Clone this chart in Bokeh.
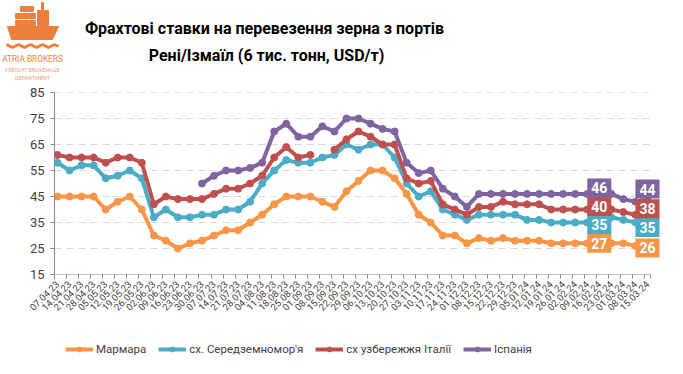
import numpy as np
from bokeh.plotting import figure
from bokeh.layouts import column
from bokeh.models import Range1d, FixedTicker, Legend, LegendItem, ColumnDataSource
from bokeh.core.properties import value
from bokeh.embed import file_html
from bokeh.resources import INLINE

dates = ["07.04.23", "14.04.23", "21.04.23", "28.04.23", "05.05.23", "12.05.23", "19.05.23", "26.05.23",
         "02.06.23", "09.06.23", "16.06.23", "23.06.23", "30.06.23", "07.07.23", "14.07.23", "21.07.23",
         "28.07.23", "04.08.23", "11.08.23", "18.08.23", "25.08.23", "01.09.23", "08.09.23", "15.09.23",
         "22.09.23", "29.09.23", "06.10.23", "13.10.23", "20.10.23", "27.10.23", "03.11.23", "10.11.23",
         "17.11.23", "24.11.23", "01.12.23", "08.12.23", "15.12.23", "22.12.23", "29.12.23", "05.01.24",
         "12.01.24", "19.01.24", "26.01.24", "02.02.24", "09.02.24", "16.02.24", "23.02.24", "01.03.24",
         "08.03.24", "15.03.24"]

nan = float("nan")
marmara = [45, 45, 45, 45, 40, 43, 45, 40, 30, 28, 25, 27,
           28, 30, 32, 32, 35, 38, 42, 45, 45, 45, 43, 41,
           47, 51, 55, 55, 52, 46, 38, 35, 30, 30, 27, 29, 28,
           29, 28, 28, 28, 27, 27, 27, 27, 27, 27, 27, 26, 26]
east_med = [58, 55, 57, 57, 52, 53, 55, 52, 37, 40, 37, 37,
            38, 38, 40, 40, 43, 50, 55, 59, 58, 58, 60, 61,
            65, 63, 65, 65, 60, 50, 45, 47, 40, 38, 36, 38, 38,
            38, 38, 36, 36, 35, 35, 35, 35, 35, 37, 36, 35, 35]
italy = [61, 60, 60, 60, 58, 60, 60, 58, 42, 45, 44, 44,
         44, 46, 48, 48, 50, 53, 60, 64, 60, 61, nan, 63,
         67, 70, 68, 65, 65, 52, 50, 51, 42, 40, 38, 41, 41,
         43, 42, 42, 42, 40, 40, 40, 40, 40, 40, 39, 38, 38]
spain = [nan] * 12 + [50, 53, 55, 55, 56, 58, 70, 73, 68, 68, 72, 70,
                      75, 75, 73, 71, 70, 58, 54, 55, 48, 45, 41, 46, 46,
                      46, 46, 46, 46, 46, 46, 46, 46, 46, 46, 44, 43, 44]

series_names = ["Мармара", "сх. Середземномор'я", "сх узбережжя Італії", "Іспанія"]
series_values = [marmara, east_med, italy, spain]
y_ticks = [15, 25, 35, 45, 55, 65, 75, 85]
title_lines = ["Фрахтові ставки  на перевезення зерна з портів", "Рені/Ізмаїл (6 тис. тонн, USD/т)"]
logo_lines = ["ATRIA BROKERS", "FREIGHT BROKERAGE", "DEPARTMENT"]

colors = ["#F79646", "#4BACC6", "#C0504D", "#8064A2"]
label_idx = [45, 49]                                   # points that carry value boxes
label_shift = [[0, 2], [2, 5], [-3, -6], [-6, -10]]    # vertical pixel shift of the boxes (style)
LOGO = "#EE7F3A"
FONT = "Roboto"
W = 683

n = len(dates)
xs = list(range(n))
x_lo, x_end = -0.25, n - 0.75          # axis extent (style)
y_lo, y_hi = y_ticks[0], y_ticks[-1]

# ---------------- header (title + logo) ----------------
HH = 82
h = figure(width=W, height=HH, output_backend="svg", toolbar_location=None,
           x_axis_type=None, y_axis_type=None, frame_align=False,
           x_range=Range1d(0, W), y_range=Range1d(0, HH), min_border=0)
h.grid.visible = False
h.outline_line_color = None
h.text(x=[266, 266], y=[54, 27], text=title_lines, text_align="center", text_baseline="middle",
       text_font=value(FONT), text_font_style="bold", text_font_size="16px", text_color="#000000")
# logo: simple ship drawing
h.quad(left=[20, 27, 15, 22, 29, 15, 22, 29], right=[26, 33, 21, 28, 35, 21, 28, 35],
       bottom=[71, 71, 64, 64, 64, 57, 57, 57], top=[76, 76, 69, 69, 69, 62, 62, 62], color=LOGO)
h.quad(left=[37, 41], right=[48, 43], bottom=[57, 70], top=[72, 80], color=LOGO)
h.patch(x=[7, 58, 52, 11], y=[56, 56, 43, 43], color=LOGO)
h.line(x=[6, 12, 18, 24, 30, 36, 42, 48, 54, 58], y=[38, 35, 38, 35, 38, 35, 38, 35, 38, 36],
       line_color=LOGO, line_width=3)
h.text(x=[32, 32, 32], y=[24, 13, 5], text=logo_lines, text_align="center", text_baseline="middle",
       text_font=value(FONT), text_font_size=["8.3px", "5.5px", "5.5px"],
       text_color=[LOGO, "#F2A070", "#F2A070"])

# ---------------- main chart ----------------
p = figure(width=W, height=254, output_backend="svg", toolbar_location=None, frame_align=False,
           x_range=Range1d(x_lo, x_lo + 610 / 12.04), y_range=Range1d(y_lo, y_hi),
           min_border_left=54, min_border_right=19, min_border_top=10, min_border_bottom=62)
p.outline_line_color = None

p.yaxis.ticker = FixedTicker(ticks=y_ticks)
p.yaxis.axis_line_color = "#868686"
p.yaxis.major_tick_line_color = "#868686"
p.yaxis.major_tick_in = 0
p.yaxis.major_tick_out = 4
p.yaxis.minor_tick_line_color = None
p.yaxis.major_label_text_font = FONT
p.yaxis.major_label_text_font_size = "13px"
p.yaxis.major_label_text_color = "#404040"
p.yaxis.major_label_standoff = 6

p.xaxis.ticker = FixedTicker(ticks=xs, minor_ticks=[x + x_lo for x in xs] + [x_end])
p.xaxis.major_label_overrides = {i: d for i, d in enumerate(dates)}
p.xaxis.major_label_orientation = np.pi / 4
p.xaxis.axis_line_color = None
p.xaxis.major_tick_line_color = None
p.xaxis.minor_tick_line_color = "#868686"
p.xaxis.minor_tick_in = 0
p.xaxis.minor_tick_out = 4
p.xaxis.major_label_text_font = FONT
p.xaxis.major_label_text_font_size = "9.5px"
p.xaxis.major_label_text_color = "#404040"
p.xaxis.major_label_standoff = 2

p.grid.grid_line_color = None
grid_y = y_ticks[1:]
p.segment(x0=[x_lo] * len(grid_y), x1=[x_end] * len(grid_y), y0=grid_y, y1=grid_y,
          line_color="#D9D9D9", line_width=1, line_dash="7 5")
p.segment(x0=[x_lo], x1=[x_end], y0=[y_lo], y1=[y_lo], line_color="#868686", line_width=1)

for name, vals, col in zip(series_names, series_values, colors):
    src = ColumnDataSource(dict(x=xs, y=vals))
    p.line("x", "y", source=src, line_color=col, line_width=4)
    p.scatter("x", "y", source=src, size=7, fill_color=col, line_color=col)

for vals, col, shifts in zip(series_values, colors, label_shift):
    src = ColumnDataSource(dict(x=[xs[i] for i in label_idx], y=[vals[i] for i in label_idx],
                                t=["%d" % vals[i] for i in label_idx], dy=shifts))
    p.text("x", "y", text="t", source=src, text_align="center", text_baseline="middle",
           y_offset="dy", text_color="white", text_font=value(FONT), text_font_style="bold",
           text_font_size="14px", background_fill_color=col, padding=4)

# ---------------- legend footer ----------------
FH = 374 - HH - 254
f = figure(width=W, height=FH, output_backend="svg", toolbar_location=None,
           x_axis_type=None, y_axis_type=None, frame_align=False,
           x_range=Range1d(0, 1), y_range=Range1d(0, 1), min_border=0)
f.grid.visible = False
f.outline_line_color = None
items = []
for name, col in zip(series_names, colors):
    r1 = f.line(x=[nan, nan], y=[nan, nan], line_color=col, line_width=4)
    r2 = f.scatter(x=[nan], y=[nan], size=7, fill_color=col, line_color=col)
    items.append(LegendItem(label=name, renderers=[r1, r2]))
legend = Legend(items=items, orientation="horizontal", location=(65, FH - 12 - 8),
                label_text_font=FONT, label_text_font_size="11.5px", label_text_color="#404040",
                glyph_width=28, glyph_height=12, label_standoff=3, spacing=12,
                padding=0, margin=0, border_line_color=None, background_fill_alpha=0)
f.add_layout(legend, "center")

layout = column(h, p, f, spacing=0)
open("out.html", "w").write(file_html(layout, INLINE))
